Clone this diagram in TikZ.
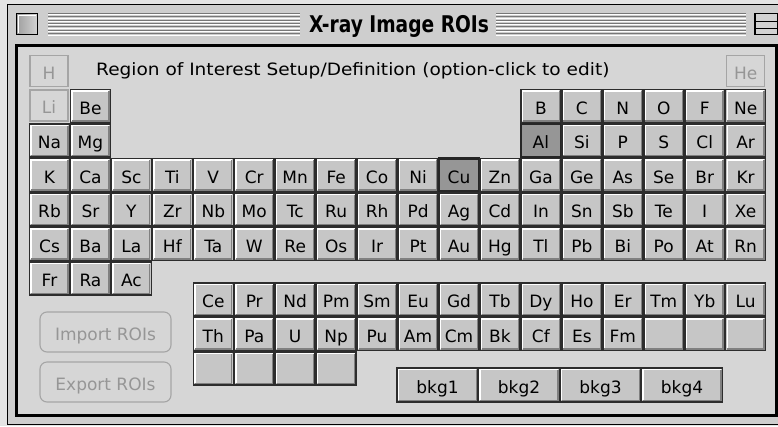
\documentclass[tikz,border=0pt]{standalone}
\usepackage{fontspec}
\setmainfont{DejaVu Sans}
\usepackage{graphicx}
\definecolor{pagebg}{RGB}{228,228,228}
\definecolor{winbg}{RGB}{206,206,206}
\definecolor{panelbg}{RGB}{214,214,214}
\definecolor{cellfill}{RGB}{198,198,198}
\definecolor{cellborder}{RGB}{45,45,45}
\definecolor{cellshade}{RGB}{128,128,128}
\definecolor{hifill}{RGB}{150,150,150}
\definecolor{disgray}{RGB}{165,165,165}
\definecolor{distext}{RGB}{150,150,150}
\definecolor{stripe}{RGB}{120,120,120}
\tikzset{
  elfont/.style={font=\fontsize{17}{19}\selectfont},
  cellbase/.style={rectangle, minimum width=40pt, minimum height=33pt, inner sep=0pt,
    text height=16.5pt, text depth=0pt, elfont},
  cell/.style={cellbase, draw=cellborder, line width=1.6pt, fill=cellfill,
    path picture={
      \draw[white, line width=1.3pt]
        ([shift={(1.6pt,1.6pt)}]path picture bounding box.south west) |-
        ([shift={(-1.6pt,-1.6pt)}]path picture bounding box.north east);
      \draw[cellshade, line width=1.3pt]
        ([shift={(1.6pt,1.6pt)}]path picture bounding box.south west) -|
        ([shift={(-1.6pt,-1.6pt)}]path picture bounding box.north east);
    }},
  hicell/.style={cellbase, draw=black!85, line width=2.6pt, fill=hifill},
  discell/.style={cellbase, draw=disgray, line width=1.1pt, text=distext,
    minimum width=38pt, minimum height=31pt},
  bkgbtn/.style={cell, minimum width=81pt, minimum height=34pt},
  roibtn/.style={rectangle, rounded corners=7pt, draw=disgray, line width=1.1pt,
    minimum width=131pt, minimum height=40pt, text=distext, elfont,
    text height=16.5pt, text depth=0pt, inner sep=0pt},
}
\begin{document}
\begin{tikzpicture}[x=1pt,y=-1pt]
\useasboundingbox (0,0) rectangle (778,426);
\fill[pagebg] (0,0) rectangle (778,426);
% window frame
\draw[black, line width=1pt, fill=winbg] (7,4) rectangle (790,424.5);
% title bar stripes
\foreach \k in {0,...,6}{
  \draw[stripe, line width=1pt] (48,{13.5+3.35*\k}) -- (300,{13.5+3.35*\k});
  \draw[white, line width=0.8pt] (48,{14.8+3.35*\k}) -- (300,{14.8+3.35*\k});
  \draw[stripe, line width=1pt] (496,{13.5+3.35*\k}) -- (746,{13.5+3.35*\k});
  \draw[white, line width=0.8pt] (496,{14.8+3.35*\k}) -- (746,{14.8+3.35*\k});
}
% close box
\shade[left color=gray!75, right color=gray!35] (17,14) rectangle (37,34);
\draw[white, line width=1pt] (18.5,32.5) |- (35.5,15.5);
\draw[black, line width=1.4pt] (16.5,13.5) rectangle (37.5,34.5);
% zoom box
\fill[gray!35] (755,13.5) rectangle (777.5,34.5);
\draw[black, line width=1.4pt] (755,13.5) rectangle (777.5,34.5);
\draw[black, line width=1.4pt] (755,21.5) -- (777.5,21.5);
\draw[black, line width=1.4pt] (755,28.5) -- (777.5,28.5);
% title
\node[anchor=base] (title) at (399,32)
  {\scalebox{0.81}[1]{\fontsize{23}{23}\selectfont\bfseries X-ray Image ROIs}};
% content panel
\draw[black, line width=2.5pt, fill=panelbg] (16.5,45.5) rectangle (776.5,415.5);
% description
\node[anchor=base west, inner sep=0pt, elfont] (desc) at (96,75)
  {\scalebox{1.09}[1]{Region of Interest Setup/Definition (option-click to edit)}};
% row 0
\node[discell] (el-H) at (49,71) {H};
\node[discell] (el-He) at ({49.5+40.95*17},71) {He};
% row 1
\node[discell] (el-Li) at (49,105.5) {Li};
\node[cell] (el-Be) at ({49.5+40.95},106) {Be};
\foreach \lab [count=\i from 12] in {B,C,N,O,F,Ne}
  \node[cell] (el-\lab) at ({49.5+40.95*\i},106) {\lab};
% row 2
\foreach \lab [count=\i from 0] in {Na,Mg}
  \node[cell] (el-\lab) at ({49.5+40.95*\i},140.5) {\lab};
\foreach \lab/\sty [count=\i from 12] in {Al/hicell,Si/cell,P/cell,S/cell,Cl/cell,Ar/cell}
  \node[\sty] (el-\lab) at ({49.5+40.95*\i},140.5) {\lab};
% row 3
\foreach \lab/\sty [count=\i from 0] in {K/cell,Ca/cell,Sc/cell,Ti/cell,V/cell,Cr/cell,
  Mn/cell,Fe/cell,Co/cell,Ni/cell,Cu/hicell,Zn/cell,Ga/cell,Ge/cell,As/cell,Se/cell,Br/cell,Kr/cell}
  \node[\sty] (el-\lab) at ({49.5+40.95*\i},175) {\lab};
% row 4
\foreach \lab [count=\i from 0] in {Rb,Sr,Y,Zr,Nb,Mo,Tc,Ru,Rh,Pd,Ag,Cd,In,Sn,Sb,Te,I,Xe}
  \node[cell] (el-\lab) at ({49.5+40.95*\i},209.5) {\lab};
% row 5
\foreach \lab [count=\i from 0] in {Cs,Ba,La,Hf,Ta,W,Re,Os,Ir,Pt,Au,Hg,Tl,Pb,Bi,Po,At,Rn}
  \node[cell] (el-\lab) at ({49.5+40.95*\i},244) {\lab};
% row 6
\foreach \lab [count=\i from 0] in {Fr,Ra,Ac}
  \node[cell] (el-\lab) at ({49.5+40.95*\i},278.5) {\lab};
% lanthanides
\foreach \lab [count=\i from 4] in {Ce,Pr,Nd,Pm,Sm,Eu,Gd,Tb,Dy,Ho,Er,Tm,Yb,Lu}
  \node[cell] (el-\lab) at ({49.5+40.95*\i},299.5) {\lab};
% actinides
\foreach \lab [count=\i from 4] in {Th,Pa,U,Np,Pu,Am,Cm,Bk,Cf,Es,Fm}
  \node[cell] (el-\lab) at ({49.5+40.95*\i},334) {\lab};
\foreach \i in {15,16,17}
  \node[cell] (blank-a\i) at ({49.5+40.95*\i},334) {};
\foreach \i in {4,5,6,7}
  \node[cell] (blank-b\i) at ({49.5+40.95*\i},368.5) {};
% ROI buttons
\node[roibtn] (import) at (105.5,332) {Import ROIs};
\node[roibtn] (export) at (105.5,382) {Export ROIs};
% background buttons
\foreach \k in {1,2,3,4}
  \node[bkgbtn] (bkg\k) at ({437.5+81.5*(\k-1)},385) {bkg\k};
\end{tikzpicture}
\end{document}
